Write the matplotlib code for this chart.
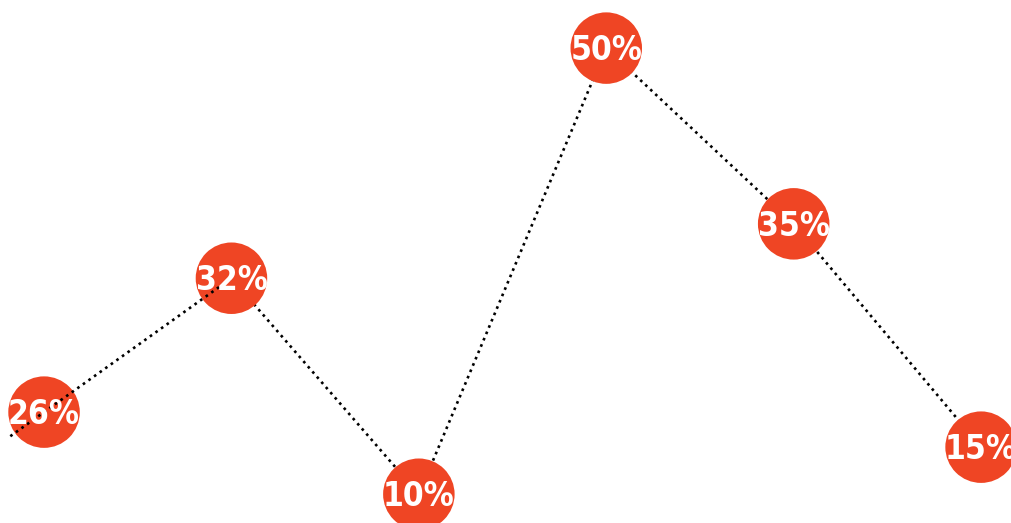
import matplotlib.pyplot as plt
import numpy as np

# values shown in the bubbles
labels = ["26%", "32%", "10%", "50%", "35%", "15%"]
# vertical placement of each bubble (0-100 scale)
levels = [21.2, 46.8, 5.5, 90.8, 57.2, 14.5]

BUBBLE = "#ef4524"

fig = plt.figure(figsize=(10.12, 5.23), dpi=100)
ax = fig.add_axes([0, 0, 1, 1])

x = np.arange(len(levels))
y = np.array(levels)

# short lead-in before the first point, continuing the first segment
lead = 0.18
x0 = x[0] - lead
y0 = y[0] - lead * (y[1] - y[0])

dots = (0, (1, 1.6))
ax.plot([x0, x[0], x[1]], [y0, y[0], y[1]], color="black", lw=1.9,
        linestyle=dots, zorder=4)
ax.plot(x[1:], y[1:], color="black", lw=1.9, linestyle=dots, zorder=2)

ax.scatter(x, y, s=2650, color=BUBBLE, edgecolors="none", zorder=3, clip_on=False)

for xi, yi, lab in zip(x, y, labels):
    ax.text(xi, yi - 0.5, lab, ha="center", va="center", color="white",
            fontsize=24, fontweight="bold", family="DejaVu Sans",
            fontstretch="condensed", zorder=5)

ax.set_xlim(-0.235, 5.165)
ax.set_ylim(0, 100)
ax.axis("off")

fig.savefig("out.png", dpi=100, facecolor="white")
